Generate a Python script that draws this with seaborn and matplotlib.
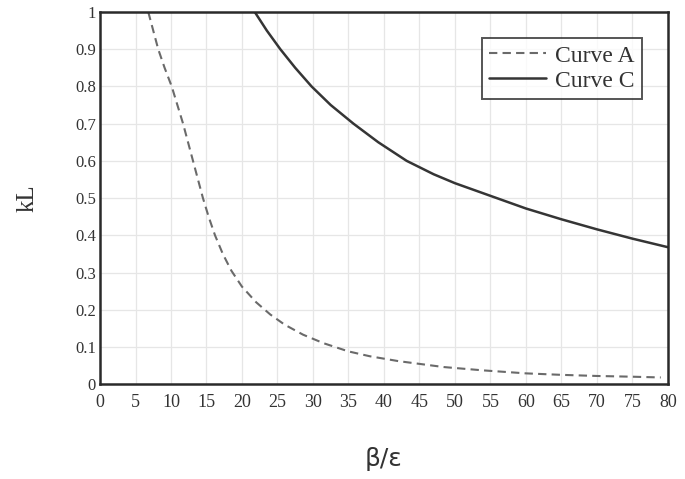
import matplotlib
matplotlib.use("Agg")
import matplotlib.pyplot as plt
import numpy as np
import pandas as pd
import seaborn as sns

# Curve A (dashed)
curve_a_x = [6.8, 7.5, 8.2, 9.1, 10.1, 10.9, 11.7, 12.4, 13.1, 13.8, 14.5, 15.3, 16.2, 17.3, 18.5,
             20.0, 22.0, 24.0, 26.0, 28.6, 31.5, 35.0, 38.0, 42.0, 48.4, 54.0, 60.0, 65.0, 70.0, 75.0, 79.0]
curve_a_y = [1.0, 0.95, 0.9, 0.85, 0.8, 0.75, 0.7, 0.65, 0.6, 0.55, 0.5, 0.45, 0.4, 0.35, 0.305,
             0.262, 0.22, 0.187, 0.16, 0.133, 0.11, 0.088, 0.075, 0.062, 0.046, 0.037, 0.029, 0.025, 0.022, 0.02, 0.018]

# Curve C (solid)
curve_c_x = [21.8, 23.5, 25.4, 27.5, 29.8, 32.5, 35.7, 39.2, 43.2, 47.0, 50.0, 55.0, 60.0, 65.0, 70.0, 75.0, 80.0]
curve_c_y = [1.0, 0.95, 0.9, 0.85, 0.8, 0.75, 0.7, 0.65, 0.6, 0.564, 0.54, 0.506, 0.472, 0.443, 0.416, 0.391, 0.368]

x_ticks = list(range(0, 81, 5))
y_ticks = [round(v * 0.1, 1) for v in range(0, 11)]
y_tick_labels = ["0", "0.1", "0.2", "0.3", "0.4", "0.5", "0.6", "0.7", "0.8", "0.9", "1"]

sns.set_theme(style="whitegrid")
plt.rcParams["font.family"] = ["Liberation Serif", "DejaVu Serif"]

df_a = pd.DataFrame({"x": curve_a_x, "y": curve_a_y})
df_c = pd.DataFrame({"x": curve_c_x, "y": curve_c_y})

fig = plt.figure(figsize=(6.85, 4.79), dpi=100)
ax = fig.add_axes([0.146, 0.198, 0.829, 0.777])

sns.lineplot(data=df_a, x="x", y="y", ax=ax, color="#6a6a6a", linewidth=1.5,
             linestyle=(0, (4, 2.5)), label="Curve A")
sns.lineplot(data=df_c, x="x", y="y", ax=ax, color="#353535", linewidth=1.8,
             label="Curve C")

ax.set_xlim(0, 80)
ax.set_ylim(0, 1)
ax.set_xticks(x_ticks)
ax.set_yticks(y_ticks)
ax.set_yticklabels(y_tick_labels)
ax.tick_params(axis="x", labelsize=13, colors="#333333", pad=7, length=0)
ax.tick_params(axis="y", labelsize=12, colors="#333333", pad=3, length=0)
ax.grid(True, color="#e6e6e6", linewidth=0.9)
ax.set_facecolor("white")
for sp in ax.spines.values():
    sp.set_color("#2a2a2a")
    sp.set_linewidth(1.8)

ax.set_xlabel("β/ε", fontsize=18, family=["DejaVu Sans"], color="#333333", labelpad=26)
ax.set_ylabel("kL", fontsize=18, color="#333333", labelpad=26)

leg = ax.legend(loc="upper right", fontsize=17, frameon=True, fancybox=False,
                borderaxespad=1.1, handlelength=2.4, handletextpad=0.4,
                borderpad=0.3, labelspacing=0.15)
leg.get_frame().set_edgecolor("#2a2a2a")
leg.get_frame().set_linewidth(1.4)
for t in leg.get_texts():
    t.set_color("#333333")

fig.savefig("out.png", dpi=100)
